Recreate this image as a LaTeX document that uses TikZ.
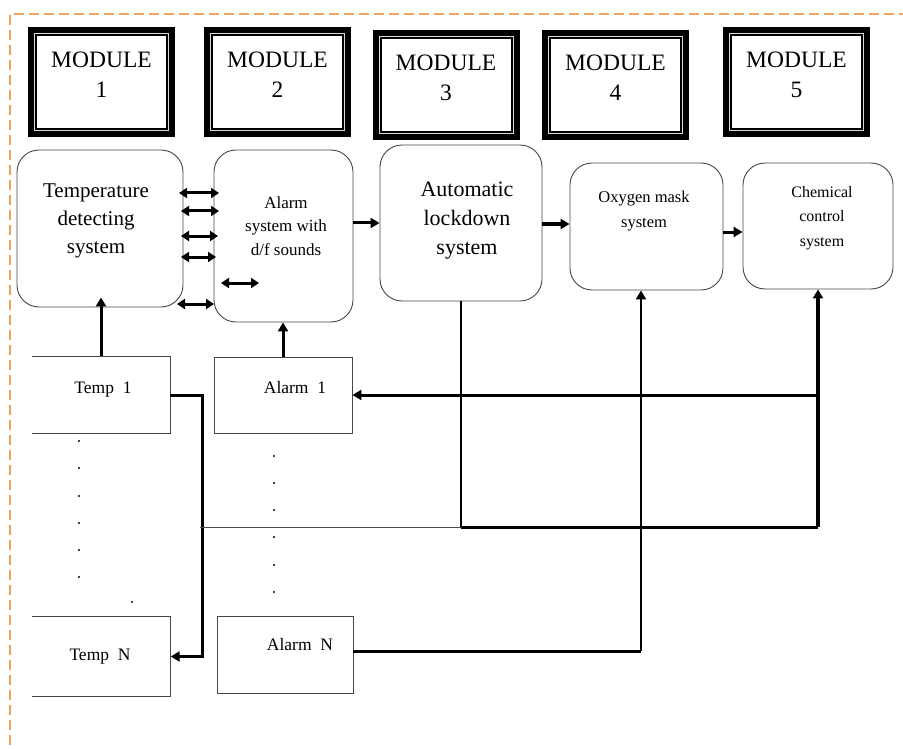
\documentclass[tikz,border=0pt]{standalone}
\usepackage{fontspec}
\newfontfamily\tnr{Liberation Serif}
\usetikzlibrary{arrows.meta,calc}
\definecolor{frameorange}{RGB}{238,164,92}
\definecolor{boxgray}{RGB}{70,70,70}
\begin{document}
\begin{tikzpicture}[x=1pt,y=-1pt,
  modbox/.style={draw=black,line width=9pt,minimum width=138pt,minimum height=101pt,inner sep=0pt,outer sep=0pt},
  modtext/.style={font=\tnr\fontsize{23.5}{30}\selectfont,align=center,inner sep=0pt},
  rbox/.style={draw=boxgray,line width=0.9pt,rounded corners=22pt,inner sep=0pt},
  sqbox/.style={draw=boxgray,line width=0.9pt,inner sep=0pt,minimum width=138pt,minimum height=76pt},
  openbox/.style={inner sep=0pt,minimum width=138pt,minimum height=77pt},
  lbl/.style={align=center,inner sep=0pt},
  small/.style={font=\tnr\fontsize{17.5}{21}\selectfont,inner sep=0pt,anchor=base},
  arr/.style={line width=3pt,-{Triangle[length=9pt,width=10pt]}},
  darr/.style={line width=3pt,{Triangle[length=8pt,width=10pt]}-{Triangle[length=8pt,width=10pt]}},
  dotm/.style={fill=black}
]
\useasboundingbox (0,0) rectangle (903,749);
% frame
\draw[frameorange,line width=2.4pt,dash pattern=on 10pt off 5pt] (10,745) -- (10,14) -- (903,14);

% modules
\foreach \n/\cx/\cy in {1/101.5/82,2/277.5/82,3/446/85,4/615.5/85,5/796.5/82}{
  \node[modbox] (m\n) at (\cx,\cy) {};
  \draw[white!85!black,line width=0.7pt] ([shift={(2,2)}]m\n.north west) rectangle ([shift={(-2,-2)}]m\n.south east);
  \node[modtext] (m\n t) at (\cx,\cy-7) {MODULE\\\n};
}

% system boxes
\node[rbox,minimum width=166pt,minimum height=157pt] (tds) at (100,228.5) {};
\node[lbl,font=\tnr\fontsize{21}{28}\selectfont] (tdst) at (96,220.4) {Temperature\\detecting\\system};
\node[rbox,minimum width=139pt,minimum height=172pt] (als) at (283.5,236) {};
\node[lbl,font=\tnr\fontsize{17}{23.5}\selectfont] (alst) at (286,226) {Alarm\\system with\\d/f sounds};
\node[rbox,minimum width=162pt,minimum height=156pt] (auto) at (461,223) {};
\node[lbl,font=\tnr\fontsize{22}{29}\selectfont] (autot) at (467,221) {Automatic\\lockdown\\system};
\node[rbox,minimum width=153pt,minimum height=127pt] (ox) at (646.5,226.5) {};
\node[lbl,font=\tnr\fontsize{16.5}{25}\selectfont] (oxt) at (644,210.7) {Oxygen mask\\system};
\node[rbox,minimum width=150pt,minimum height=126pt] (chem) at (818,226) {};
\node[lbl,font=\tnr\fontsize{16}{24.5}\selectfont] (chemt) at (822,217.8) {Chemical\\control\\system};

% bottom boxes
\node[openbox] (t1) at (101,395) {};
\draw[boxgray,line width=0.9pt] (t1.north west) -- (t1.north east) -- (t1.south east) -- (t1.south west);
\node[small] (t1t) at (103,393) {Temp\ \ 1};
\node[openbox,minimum height=79pt] (tN) at (101.5,656.5) {};
\draw[boxgray,line width=0.9pt] (tN.north west) -- (tN.north east) -- (tN.south east) -- (tN.south west);
\node[small] (tNt) at (100,660) {Temp\ \ N};
\node[sqbox] (al1) at (283,395) {};
\node[small] (al1t) at (295,393) {Alarm\ \ 1};
\node[sqbox,minimum width=136pt,minimum height=77pt] (alN) at (285,654.5) {};
\node[small] (alNt) at (300,650) {Alarm\ \ N};

% dots
\foreach \y in {441,468,496,523,550,577}{\fill[dotm] (79,\y) circle (1.2pt);}
\fill[dotm] (132,602) circle (1.2pt);
\foreach \y in {456,483,510,537,565,592}{\fill[dotm] (274,\y) circle (1.2pt);}

% double arrows between temperature and alarm systems
\coordinate (d1a) at (179,193); \coordinate (d1b) at (219,193);
\coordinate (d2a) at (181,211); \coordinate (d2b) at (219,211);
\coordinate (d3a) at (181,236); \coordinate (d3b) at (218,236);
\coordinate (d4a) at (181,257); \coordinate (d4b) at (216,257);
\coordinate (d5a) at (221,283); \coordinate (d5b) at (259,283);
\coordinate (d6a) at (177,304); \coordinate (d6b) at (214,304);
\foreach \i in {1,...,6}{\draw[darr] (d\i a) -- (d\i b);}

% chain arrows
\draw[arr] (als.east |- 0,223) -- (auto.west |- 0,223);
\draw[arr] (auto.east |- 0,224) -- (ox.west |- 0,224);
\draw[arr] (ox.east |- 0,232) -- (chem.west |- 0,232);

% up arrows
\draw[arr] (t1.north) -- ($(t1.north |- tds.south)+(0,-10)$);
\draw[arr] (al1.north) -- (al1.north |- als.south);

% temp1 -> tempN
\coordinate (ct) at (202,656.5);
\draw[arr] (t1.east) -| (ct) -- (tN.east);

% lockdown network
\coordinate (cj) at (818,527);
\coordinate (cl) at (461,527);
\coordinate (cA) at (818,395);
\coordinate (cs) at (200,527);
\draw[line width=1.5pt] (auto.south) -- (cl);
\draw[black!70,line width=1pt] (cs) -- (cl);
\draw[line width=3pt] (cl) -- (cj);
\draw[arr,line width=3.4pt] (cj) -- (chem.south);
\draw[arr] (cA) -- (al1.east);

% alarm N -> oxygen
\coordinate (cO) at (641,651);
\draw[line width=3pt] (alN.east |- cO) -- (cO);
\draw[arr,line width=2.2pt] (cO) -- (cO |- ox.south);
\end{tikzpicture}
\end{document}
